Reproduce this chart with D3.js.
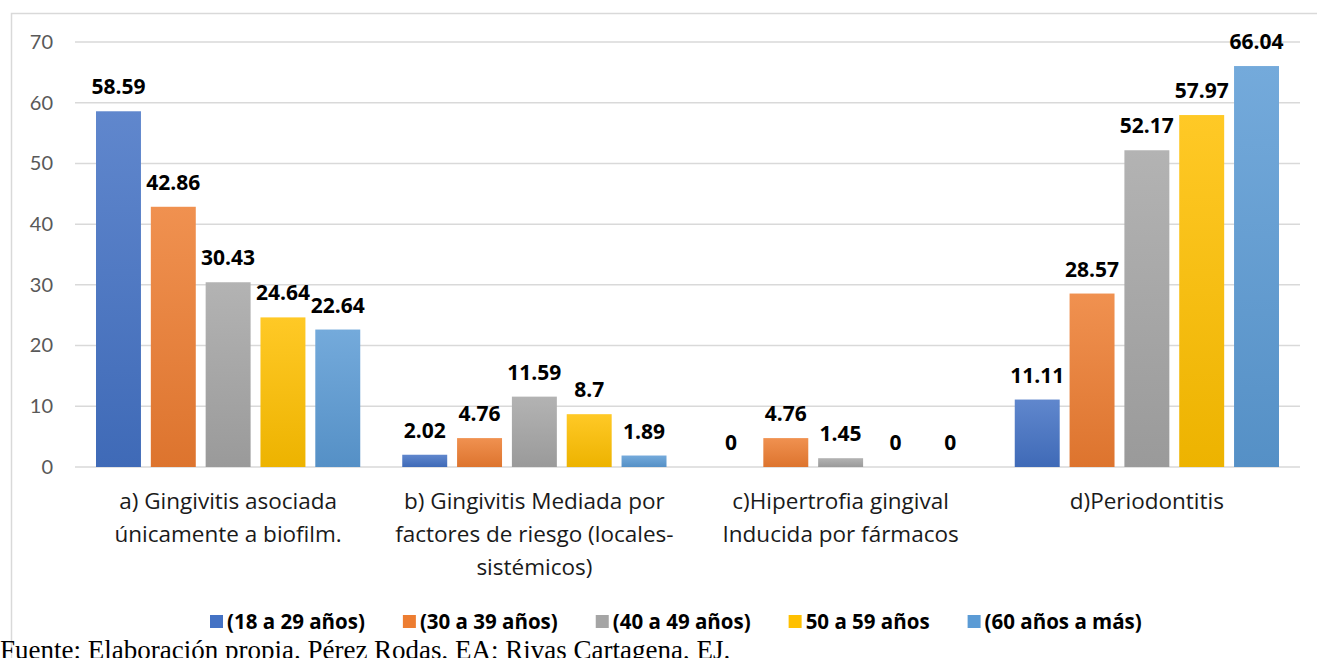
<!DOCTYPE html>
<head>
<meta charset="utf-8">
</head>
<style>
  body { margin: 0; background: #fff; font-family: "Open Sans", "Noto Sans", sans-serif; overflow: hidden; }
  .tick text { fill: #595959; font-size: 20px; font-family: Lato, sans-serif; }
  .axis path { display: none; }
  .grid line { stroke: #d9d9d9; stroke-width: 1.5; }
  .cat { font-size: 22.5px; fill: #1a1a1a; }
  .value { font-size: 21px; font-weight: bold; fill: #000; }
  .legend text { font-size: 20.5px; font-weight: bold; fill: #000; }
  .source { font-family: "Liberation Serif", "Times New Roman", serif; font-size: 27px; fill: #000; }
</style>
<body>
<script src="https://d3js.org/d3.v7.min.js"></script>
<script>

var categories = [
  ["a) Gingivitis asociada", "únicamente a biofilm."],
  ["b) Gingivitis Mediada por", "factores de riesgo (locales-", "sistémicos)"],
  ["c)Hipertrofia gingival", "Inducida por fármacos"],
  ["d)Periodontitis"]
]
var series = ["(18 a 29 años)", "(30 a 39 años)", "(40 a 49 años)", "50 a 59 años", "(60 años a más)"]
var values = [
  [58.59, 2.02, 0, 11.11],
  [42.86, 4.76, 4.76, 28.57],
  [30.43, 11.59, 1.45, 52.17],
  [24.64, 8.7, 0, 57.97],
  [22.64, 1.89, 0, 66.04]
]
var yTicks = [0, 10, 20, 30, 40, 50, 60, 70]

var colors = ["#4472C4", "#ED7D31", "#A5A5A5", "#FFC000", "#5B9BD5"]

var W = 1317, H = 658
var margin = {top: 42, left: 75, right: 17, bottom: 191}
var width = W - margin.left - margin.right,
    height = H - margin.top - margin.bottom

var svg = d3.select("body").append("svg")
    .attr("width", W)
    .attr("height", H)

// gradients for the bars (light top, darker bottom)
var defs = svg.append("defs")
colors.forEach(function(c, i) {
  var g = defs.append("linearGradient")
      .attr("id", "grad" + i)
      .attr("x1", 0).attr("y1", 0).attr("x2", 0).attr("y2", 1)
  g.append("stop").attr("offset", "0%").attr("stop-color", d3.interpolateRgb(c, "#fff")(0.15))
  g.append("stop").attr("offset", "100%").attr("stop-color", d3.rgb(c).darker(0.2))
})

// chart frame
svg.append("rect")
    .attr("x", 11.5).attr("y", 13.5)
    .attr("width", W + 10).attr("height", H)
    .attr("fill", "none")
    .attr("stroke", "#d9d9d9")
    .attr("stroke-width", 1.5)

var chart = svg.append("g")
    .attr("transform", "translate(" + margin.left + "," + margin.top + ")")

var x0 = d3.scaleBand()
    .domain(d3.range(categories.length))
    .range([0, width])

var x1 = d3.scaleBand()
    .domain(d3.range(series.length))
    .range([21, x0.bandwidth() - 21])
    .paddingInner(0.18)

var y = d3.scaleLinear()
    .domain([0, 70])
    .range([height, 0])

chart.append("g")
    .attr("class", "grid")
    .selectAll("line")
    .data(yTicks)
  .enter().append("line")
    .attr("x1", 0).attr("x2", width)
    .attr("y1", function(d) { return y(d) })
    .attr("y2", function(d) { return y(d) })

chart.append("g")
    .attr("class", "y axis")
    .attr("transform", "translate(-14,0)")
    .call(d3.axisLeft(y).tickValues(yTicks).tickSize(0).tickPadding(8))

var group = chart.selectAll(".group")
    .data(categories)
  .enter().append("g")
    .attr("class", "group")
    .attr("transform", function(d, i) { return "translate(" + x0(i) + ",0)" })

group.selectAll("rect")
    .data(function(d, i) { return values.map(function(v, s) { return {s: s, v: v[i]} }) })
  .enter().append("rect")
    .attr("x", function(d) { return x1(d.s) })
    .attr("width", x1.bandwidth())
    .attr("y", function(d) { return y(d.v) })
    .attr("height", function(d) { return height - y(d.v) })
    .attr("fill", function(d) { return "url(#grad" + d.s + ")" })

group.selectAll(".value")
    .data(function(d, i) { return values.map(function(v, s) { return {s: s, v: v[i]} }) })
  .enter().append("text")
    .attr("class", "value")
    .attr("x", function(d) { return x1(d.s) + x1.bandwidth() / 2 })
    .attr("y", function(d) { return y(d.v) - 17 })
    .attr("text-anchor", "middle")
    .text(function(d) { return d.v })

// category labels
group.append("text")
    .attr("class", "cat")
    .attr("text-anchor", "middle")
    .selectAll("tspan")
    .data(function(d) { return d })
  .enter().append("tspan")
    .attr("x", x0.bandwidth() / 2)
    .attr("y", function(d, i) { return height + 42 + i * 33 })
    .text(function(d) { return d })

// legend
var legend = svg.append("g").attr("class", "legend")
var lx = 210
series.forEach(function(s, i) {
  legend.append("rect")
      .attr("x", lx).attr("y", 615)
      .attr("width", 13).attr("height", 13)
      .attr("fill", colors[i])
  var t = legend.append("text")
      .attr("x", lx + 17).attr("y", 629)
      .text(s)
  lx += 17 + t.node().getComputedTextLength() + 38
})

svg.append("text")
    .attr("class", "source")
    .attr("x", 0).attr("y", 659)
    .text("Fuente: Elaboración propia. Pérez Rodas, EA; Rivas Cartagena, EJ.")

</script>
</body>
